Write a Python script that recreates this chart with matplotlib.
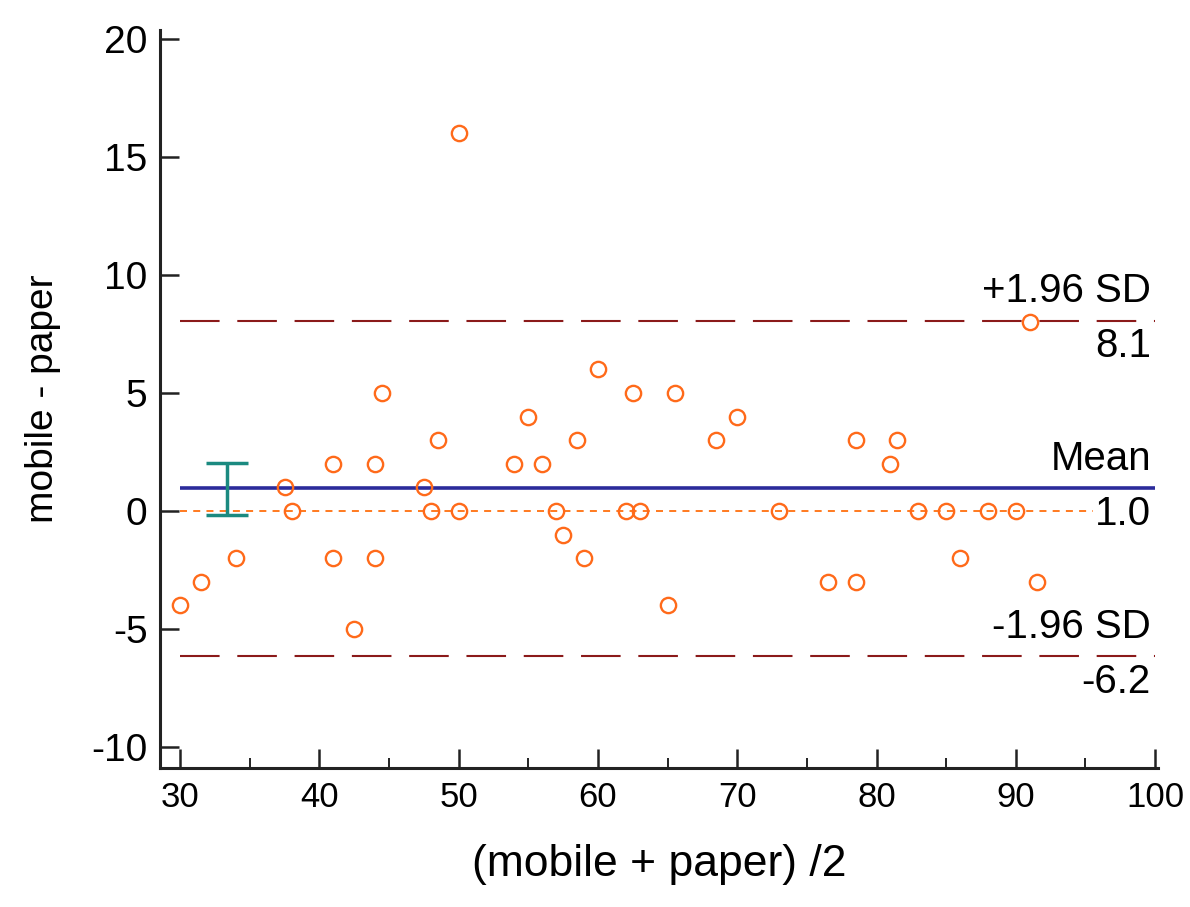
import numpy as np
import matplotlib as mpl
import matplotlib.pyplot as plt

mpl.rcParams['font.family'] = ['Liberation Sans', 'DejaVu Sans']
mpl.rcParams['axes.unicode_minus'] = False

# averages and differences
avg = [30, 31.5, 34, 37.5, 38, 41, 41, 44, 44, 44.5, 42.5, 47.5, 48, 48.5, 50, 50,
       54, 55, 56, 57, 57.5, 58.5, 59, 60, 62, 62.5, 63, 65, 65.5, 68.5, 70, 73,
       76.5, 78.5, 78.5, 81, 81.5, 83, 85, 86, 88, 90, 91, 91.5]
diff = [-4, -3, -2, 1, 0, 2, -2, 2, -2, 5, -5, 1, 0, 3, 16, 0,
        2, 4, 2, 0, -1, 3, -2, 6, 0, 5, 0, -4, 5, 3, 4, 0,
        -3, 3, -3, 2, 3, 0, 0, -2, 0, 0, 8, -3]
mean_d = 0.97
upper = 8.07
lower = -6.15
ci = [-0.15, 2.05]
ci_x = 33.4

fig = plt.figure(figsize=(11.9, 9.07), dpi=100)
ax = fig.add_axes([0.1345, 0.1532, 0.8385, 0.8138])

ax.hlines(0, 30, 100, colors='#ff7a1f', lw=1.4, linestyles=(0, (3.6, 3.2)), zorder=1)
ax.hlines(mean_d, 30, 100, colors='#2b2b9b', lw=2.6, zorder=2)
ax.hlines([upper, lower], 30, 100, colors='#8b1a1a', lw=1.5,
          linestyles=(0, (19, 8.5)), zorder=2)
ax.errorbar([ci_x], [np.mean(ci)], yerr=[[np.mean(ci) - ci[0]], [ci[1] - np.mean(ci)]],
            fmt='none', ecolor='#1b8a80', elinewidth=2.5, capsize=15, capthick=2.5, zorder=3)
ax.plot(avg, diff, 'o', mfc='none', mec='#ff6a1a', ms=11, mew=1.7, zorder=4)

tx = 99.7
fs = 29
ax.annotate('+1.96 SD', (tx, upper), xytext=(0, 13), textcoords='offset points',
            ha='right', va='baseline', fontsize=fs)
ax.annotate('%.1f' % upper, (tx, upper), xytext=(0, -5), textcoords='offset points',
            ha='right', va='top', fontsize=fs)
ax.annotate('Mean', (tx, mean_d), xytext=(0, 13), textcoords='offset points',
            ha='right', va='baseline', fontsize=fs)
ax.annotate('%.1f' % mean_d, (tx, mean_d), xytext=(0, -5), textcoords='offset points',
            ha='right', va='top', fontsize=fs,
            bbox=dict(boxstyle='square,pad=0.05', fc='white', ec='none'))
ax.annotate('-1.96 SD', (tx, lower), xytext=(0, 13), textcoords='offset points',
            ha='right', va='baseline', fontsize=fs)
ax.annotate('%.1f' % lower, (tx, lower), xytext=(0, -5), textcoords='offset points',
            ha='right', va='top', fontsize=fs)

ax.set_xlim(28.56, 100.2)
ax.set_ylim(-10.89, 20.38)
ax.set_xticks(np.arange(30, 101, 10))
ax.set_xticks(np.arange(35, 100, 10), minor=True)
ax.set_yticks(np.arange(-10, 21, 5))
ax.spines['top'].set_visible(False)
ax.spines['right'].set_visible(False)
for s in ['left', 'bottom']:
    ax.spines[s].set_linewidth(2.2)
    ax.spines[s].set_color('#222222')
ax.tick_params(which='major', direction='in', length=14, width=1.8, color='#222222', pad=9)
ax.tick_params(which='minor', direction='in', length=7, width=1.4, color='#222222')
ax.tick_params(axis='x', labelsize=25)
ax.tick_params(axis='y', labelsize=28)
ax.set_xlabel('(mobile + paper) /2', fontsize=32, labelpad=22)
ax.set_ylabel('mobile - paper', fontsize=28, labelpad=22)

fig.savefig('out.png', dpi=100)
